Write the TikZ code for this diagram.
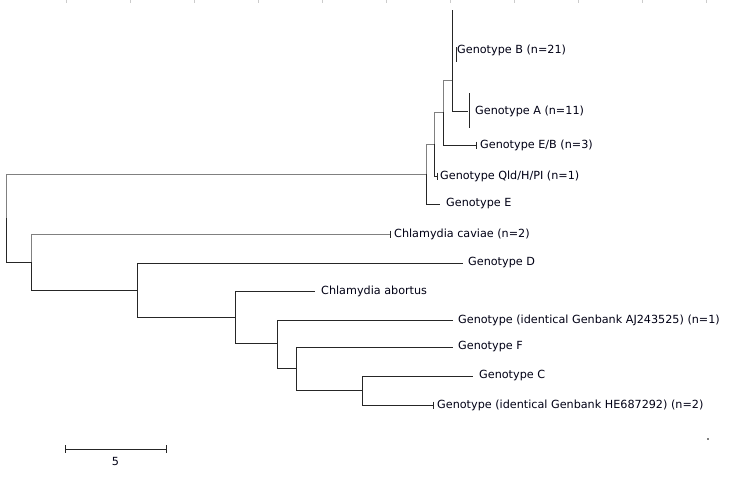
\documentclass[tikz,border=0pt]{standalone}
\usepackage{fontspec}
\setmainfont{DejaVu Sans}
\usetikzlibrary{positioning,calc}

\tikzset{
  edge/.style={line width=1pt, black!85},
  edgegray/.style={line width=1pt, gray},
  taxon/.style={anchor=west, inner sep=0pt, text=black!92!blue, font=\fontsize{11.2}{13}\selectfont},
}

\begin{document}
\begin{tikzpicture}[x=1pt,y=-1pt]
    \useasboundingbox (0,0) rectangle (749,479);

    % marcas grises del borde superior
    \foreach \x in {66,130,...,706} {
        \draw[gray!40, line width=0.8pt] (\x,0) -- (\x,2.5);
    }

    % nodos internos
    \coordinate (root) at (6,218);
    \coordinate (n31)  at (31,262);
    \coordinate (n137) at (137,290);
    \coordinate (n235) at (235,317);
    \coordinate (n277) at (277,343);
    \coordinate (n296) at (296,368);
    \coordinate (n362) at (362,390);
    \coordinate (n426) at (426,174);
    \coordinate (n434) at (434,144);
    \coordinate (n443) at (443,112);
    \coordinate (n452) at (452,80);

    % extremos de las ramas
    \coordinate (tB)   at (452,50);
    \coordinate (tA)   at (468,111);
    \coordinate (tEB)  at (476,145);
    \coordinate (tQld) at (437,176);
    \coordinate (tE)   at (440,204);
    \coordinate (tCav) at (390,234);
    \coordinate (tD)   at (463,263);
    \coordinate (tAbo) at (315,291);
    \coordinate (tAJ)  at (453,320);
    \coordinate (tF)   at (453,347);
    \coordinate (tC)   at (473,376);
    \coordinate (tHE)  at (433,405);

    % ramas
    \draw[edgegray] (root) |- (n426);
    \draw[edge] (root) |- (n31);
    \draw[edgegray] (n31) |- (tCav);
    \draw[edge] (n31) |- (n137);
    \draw[edge] (n137) |- (tD);
    \draw[edge] (n137) |- (n235);
    \draw[edge] (n235) |- (tAbo);
    \draw[edge] (n235) |- (n277);
    \draw[edge] (n277) |- (tAJ);
    \draw[edge] (n277) |- (n296);
    \draw[edge] (n296) |- (tF);
    \draw[edge] (n296) |- (n362);
    \draw[edge] (n362) |- (tC);
    \draw[edge] (n362) |- (tHE);
    \draw[edgegray] (n426) |- (n434);
    \draw[edge] (n426) |- (tE);
    \draw[edgegray] (n434) |- (n443);
    \draw[edge] (n434) |- (tQld);
    \draw[edgegray] (n443) |- (n452);
    \draw[edge] (n443) |- (tEB);
    \draw[edge] (n452) |- (tB);
    \draw[edge] (n452) |- (tA);

    % marcas en los extremos
    \foreach \t in {tCav,tQld,tEB,tHE} {
        \draw[edge] (\t) ++(0,-3.5) -- ++(0,7);
    }
    \draw[edge] (tA) ++(1,-18) -- ++(0,35);
    \draw[edge] (tB) ++(0,-40) -- ++(0,82);
    \draw[edge] (tB) ++(4,-3) -- ++(0,15);

    % etiquetas
    \node[taxon] (lB)   at ([xshift=5pt]tB)   {Genotype B (n=21)};
    \node[taxon] (lA)   at ([xshift=7pt]tA)   {Genotype A (n=11)};
    \node[taxon] (lEB)  at ([xshift=4pt]tEB)  {Genotype E/B (n=3)};
    \node[taxon] (lQld) at ([xshift=3pt]tQld) {Genotype Qld/H/PI (n=1)};
    \node[taxon] (lE)   at ([xshift=6pt]tE)   {Genotype E};
    \node[taxon] (lCav) at ([xshift=4pt]tCav) {Chlamydia caviae (n=2)};
    \node[taxon] (lD)   at ([xshift=5pt]tD)   {Genotype D};
    \node[taxon] (lAbo) at ([xshift=6pt]tAbo) {Chlamydia abortus};
    \node[taxon] (lAJ)  at ([xshift=5pt]tAJ)  {Genotype (identical Genbank AJ243525) (n=1)};
    \node[taxon] (lF)   at ([xshift=5pt]tF)   {Genotype F};
    \node[taxon] (lC)   at ([xshift=6pt]tC)   {Genotype C};
    \node[taxon] (lHE)  at ([xshift=4pt]tHE)  {Genotype (identical Genbank HE687292) (n=2)};

    % escala
    \coordinate (s0) at (65,449);
    \coordinate (s1) at (166,449);
    \draw[edge] (s0) -- (s1);
    \draw[edge] (s0) ++(0,-4) -- ++(0,8);
    \draw[edge] (s1) ++(0,-4) -- ++(0,8);
    \node[text=black!92!blue, font=\fontsize{11.2}{13}\selectfont, below=5pt of $(s0)!0.5!(s1)$] (lscale) {5};

    % punto
    \fill[gray] (706.5,437.5) rectangle (708.5,439.5);

\end{tikzpicture}
\end{document}
